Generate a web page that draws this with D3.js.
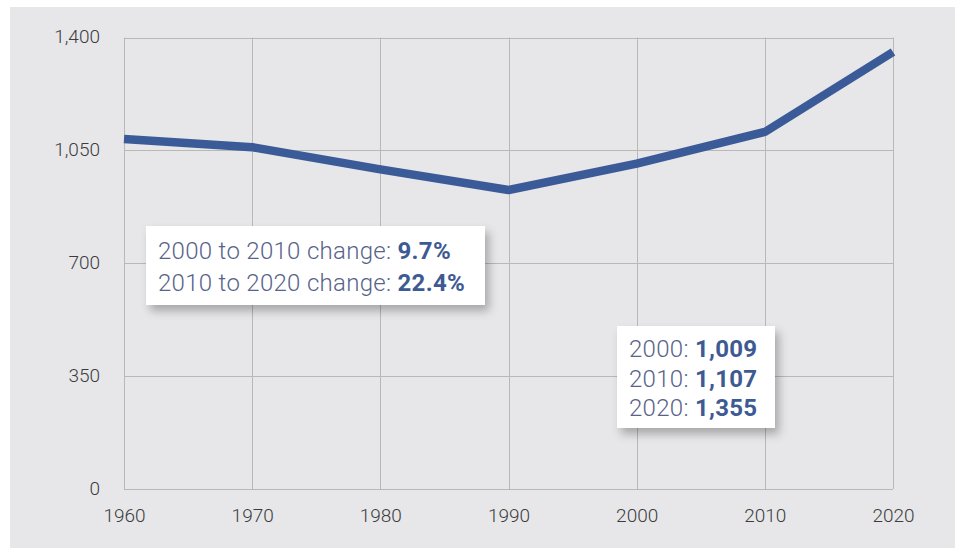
<!DOCTYPE html>
<html>
<head>
<meta charset="utf-8">
<script src="https://cdn.jsdelivr.net/npm/d3@7"></script>
<style>
  html, body { margin: 0; padding: 0; background: #ffffff; }
  svg { display: block; }
  text { font-family: Roboto, "Noto Sans", sans-serif; }
</style>
</head>
<body>
<svg id="chart" width="962" height="556"></svg>
<script>
const years = [1960, 1970, 1980, 1990, 2000, 2010, 2020];
const values = [1085, 1060, 991, 927, 1009, 1107, 1355];
const yTicks = [0, 350, 700, 1050, 1400];
const changeLabels = ["2000 to 2010 change: ", "2010 to 2020 change: "];
const changeValues = ["9.7%", "22.4%"];
const pointLabels = ["2000: ", "2010: ", "2020: "];
const pointValues = ["1,009", "1,107", "1,355"];

const svg = d3.select("#chart");
const W = 962, H = 556;
const margin = { left: 124, right: 69, top: 37.5, bottom: 67 };

// panel
svg.append("rect").attr("x", 10).attr("y", 7).attr("width", 945).attr("height", 541).attr("fill", "#e7e7e9");

const defs = svg.append("defs");
const f = defs.append("filter").attr("id", "shadow").attr("x", "-20%").attr("y", "-30%").attr("width", "150%").attr("height", "180%");
f.append("feDropShadow").attr("dx", 4).attr("dy", 6).attr("stdDeviation", 5).attr("flood-color", "#000").attr("flood-opacity", 0.28);

const x = d3.scaleLinear().domain([1960, 2020]).range([margin.left, W - margin.right]);
const y = d3.scaleLinear().domain([0, 1400]).range([H - margin.bottom, margin.top]);

const grid = svg.append("g");
grid.selectAll("line.h").data(yTicks).join("line")
  .attr("x1", x(1960)).attr("x2", x(2020))
  .attr("y1", d => Math.round(y(d)) + 0.5).attr("y2", d => Math.round(y(d)) + 0.5)
  .attr("stroke", "#b8b8b8").attr("stroke-width", 1);
grid.selectAll("line.v").data(years).join("line")
  .attr("y1", y(1400)).attr("y2", y(0))
  .attr("x1", d => Math.round(x(d)) + 0.5).attr("x2", d => Math.round(x(d)) + 0.5)
  .attr("stroke", "#b8b8b8").attr("stroke-width", 1);

// axes
const yAxis = d3.axisLeft(y).tickValues(yTicks).tickFormat(d3.format(",")).tickSize(0).tickPadding(24);
const gy = svg.append("g").attr("transform", `translate(${x(1960)},-1)`).call(yAxis);
gy.select(".domain").remove();
gy.selectAll("text").attr("font-size", 19).attr("font-weight", 300).attr("fill", "#3c3c3c").attr("font-family", "Roboto");

const xAxis = d3.axisBottom(x).tickValues(years).tickFormat(d3.format("d")).tickSize(0).tickPadding(20);
const gx = svg.append("g").attr("transform", `translate(0,${y(0)})`).call(xAxis);
gx.select(".domain").remove();
gx.selectAll("text").attr("font-size", 19).attr("font-weight", 300).attr("fill", "#3c3c3c").attr("font-family", "Roboto");

// line
const line = d3.line().x((d, i) => x(years[i])).y(d => y(d));
svg.append("path").datum(values).attr("d", line)
  .attr("fill", "none").attr("stroke", "#3b5b98").attr("stroke-width", 8.5)
  .attr("stroke-linejoin", "round").attr("stroke-linecap", "butt");

// annotation boxes
function box(bx, by, bw, bh, tx, baselines, normals, bolds) {
  const g = svg.append("g");
  g.append("rect").attr("x", bx).attr("y", by).attr("width", bw).attr("height", bh)
    .attr("fill", "#ffffff").attr("filter", "url(#shadow)");
  const t = g.selectAll("text").data(normals).join("text")
    .attr("x", tx).attr("y", (d, i) => baselines[i])
    .attr("font-size", 24).attr("letter-spacing", 0.3);
  t.append("tspan").attr("font-weight", 300).attr("fill", "#58638a").text(d => d);
  t.append("tspan").attr("font-weight", 700).attr("fill", "#3d5a93").text((d, i) => bolds[i]);
}
box(146, 226, 339, 79, 158, [259, 291], changeLabels, changeValues);
box(617, 326, 158, 102, 629, [357, 387, 416], pointLabels, pointValues);
</script>
</body>
</html>
